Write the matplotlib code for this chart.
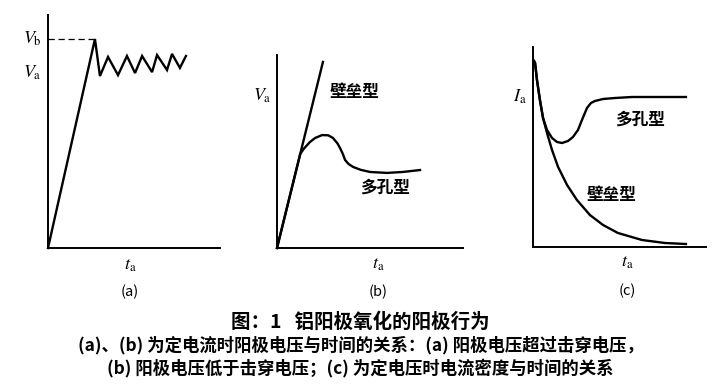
import matplotlib
matplotlib.use("Agg")
import matplotlib.pyplot as plt

# fonts: CJK for Chinese text, stix (Times-like) for the italic symbols
plt.rcParams["font.family"] = ["Noto Sans CJK SC", "DejaVu Sans"]
plt.rcParams["mathtext.fontset"] = "stix"

# (a) constant current, voltage exceeds breakdown voltage
a_t = [0.0, 2.73, 3.02, 3.49, 4.07, 4.59, 5.06, 5.47, 6.05, 6.34, 6.92, 7.21, 7.67, 8.02]
a_v = [0.0, 8.97, 7.38, 8.20, 7.42, 8.24, 7.51, 8.24, 7.55, 8.28, 7.64, 8.33, 7.73, 8.24]
a_vb = 8.97
a_va = 7.51

# (b) constant current, voltage below breakdown voltage
b_barrier_t = [0.0, 2.47]
b_barrier_v = [0.0, 9.64]
b_porous_t = [0.0, 1.25, 1.45, 1.77, 2.05, 2.42, 2.75, 3.01, 3.25, 3.39, 3.55, 3.66, 3.85,
              4.09, 4.50, 5.00, 5.91, 6.77, 7.69]
b_porous_v = [0.0, 4.88, 5.15, 5.49, 5.70, 5.85, 5.84, 5.70, 5.42, 5.18, 4.85, 4.56, 4.35,
              4.20, 4.05, 3.94, 3.89, 3.94, 4.04]

# (c) constant voltage, current density vs time
c_barrier_t = [0.06, 0.12, 0.23, 0.40, 0.58, 0.81, 1.10, 1.45, 1.97, 2.54, 3.29, 4.05,
               4.91, 6.30, 7.63, 8.84]
c_barrier_i = [9.30, 9.20, 8.35, 7.35, 6.45, 5.70, 4.85, 4.00, 3.10, 2.35, 1.60, 1.10,
               0.70, 0.35, 0.20, 0.15]
c_porous_t = [0.06, 0.12, 0.23, 0.40, 0.58, 0.81, 1.10, 1.39, 1.68, 2.02, 2.31, 2.60,
              2.83, 3.12, 3.35, 3.58, 4.05, 4.74, 5.72, 8.84]
c_porous_i = [9.30, 9.20, 8.35, 7.35, 6.45, 5.85, 5.45, 5.25, 5.20, 5.30, 5.50, 5.85,
              6.35, 6.95, 7.20, 7.30, 7.40, 7.45, 7.50, 7.50]

caption = [
    "图：1   铝阳极氧化的阳极行为",
    "(a)、(b) 为定电流时阳极电压与时间的关系：(a) 阳极电压超过击穿电压，",
    "(b) 阳极电压低于击穿电压；(c) 为定电压时电流密度与时间的关系",
]

W, H = 721, 386


def make_axes(fig, x0, x1, y0, y1):
    # axes box given in picture pixels (left, right, top, bottom)
    ax = fig.add_axes([x0 / W, 1 - y1 / H, (x1 - x0) / W, (y1 - y0) / H])
    ax.set_xlim(0, 10)
    ax.set_ylim(0, 10)
    for side in ("top", "right"):
        ax.spines[side].set_visible(False)
    for side in ("left", "bottom"):
        ax.spines[side].set_linewidth(1.4)
    ax.set_xticks([])
    ax.set_yticks([])
    ax.patch.set_alpha(0)
    return ax


def main():
    fig = plt.figure(figsize=(W / 100, H / 100), dpi=100)
    lw = 1.7
    sym = dict(fontsize=13, ha="center", va="center")
    cjk = dict(fontsize=12, ha="center", va="center", fontweight="bold")
    panel = dict(fontsize=10.5, ha="center", va="center")

    # panel (a)
    ax = make_axes(fig, 48, 220, 15, 248)
    ax.plot(a_t, a_v, color="k", lw=lw, solid_joinstyle="miter", clip_on=False)
    ax.plot([0, a_t[1]], [a_vb, a_vb], color="k", lw=0.9, ls=(0, (5, 3)))
    ax.text(-0.09, a_vb / 10, r"$V_\mathrm{b}$", transform=ax.transAxes, **sym)
    ax.text(-0.09, a_va / 10, r"$V_\mathrm{a}$", transform=ax.transAxes, **sym)
    ax.text(0.477, -0.075, r"$t_\mathrm{a}$", transform=ax.transAxes, **sym)
    ax.text(0.477, -0.19, "(a)", transform=ax.transAxes, **panel)

    # panel (b)
    ax = make_axes(fig, 277, 463, 55, 248)
    ax.plot(b_barrier_t, b_barrier_v, color="k", lw=lw, clip_on=False)
    ax.plot(b_porous_t, b_porous_v, color="k", lw=lw, clip_on=False)
    ax.text(-0.08, 0.79, r"$V_\mathrm{a}$", transform=ax.transAxes, **sym)
    ax.text(4.19, 8.08, "壁垒型", **cjk)
    ax.text(5.81, 3.11, "多孔型", **cjk)
    ax.text(0.543, -0.085, r"$t_\mathrm{a}$", transform=ax.transAxes, **sym)
    ax.text(0.543, -0.228, "(b)", transform=ax.transAxes, **panel)

    # panel (c)
    ax = make_axes(fig, 533, 706, 47, 247)
    ax.plot(c_barrier_t, c_barrier_i, color="k", lw=lw, clip_on=False)
    ax.plot(c_porous_t, c_porous_i, color="k", lw=lw, clip_on=False)
    ax.text(-0.075, 0.75, r"$I_\mathrm{a}$", transform=ax.transAxes, **sym)
    ax.text(6.18, 6.35, "多孔型", **cjk)
    ax.text(4.57, 2.6, "壁垒型", **cjk)
    ax.text(0.543, -0.075, r"$t_\mathrm{a}$", transform=ax.transAxes, **sym)
    ax.text(0.543, -0.22, "(c)", transform=ax.transAxes, **panel)

    # caption
    fig.text(0.5, 1 - 322 / H, caption[0], fontsize=14, fontweight="bold",
             ha="center", va="center")
    fig.text(0.5, 1 - 345 / H, caption[1], fontsize=12.5, fontweight="bold",
             ha="center", va="center")
    fig.text(0.5, 1 - 368 / H, caption[2], fontsize=12.5, fontweight="bold",
             ha="center", va="center")

    fig.savefig("out.png", dpi=100)


if __name__ == "__main__":
    main()
